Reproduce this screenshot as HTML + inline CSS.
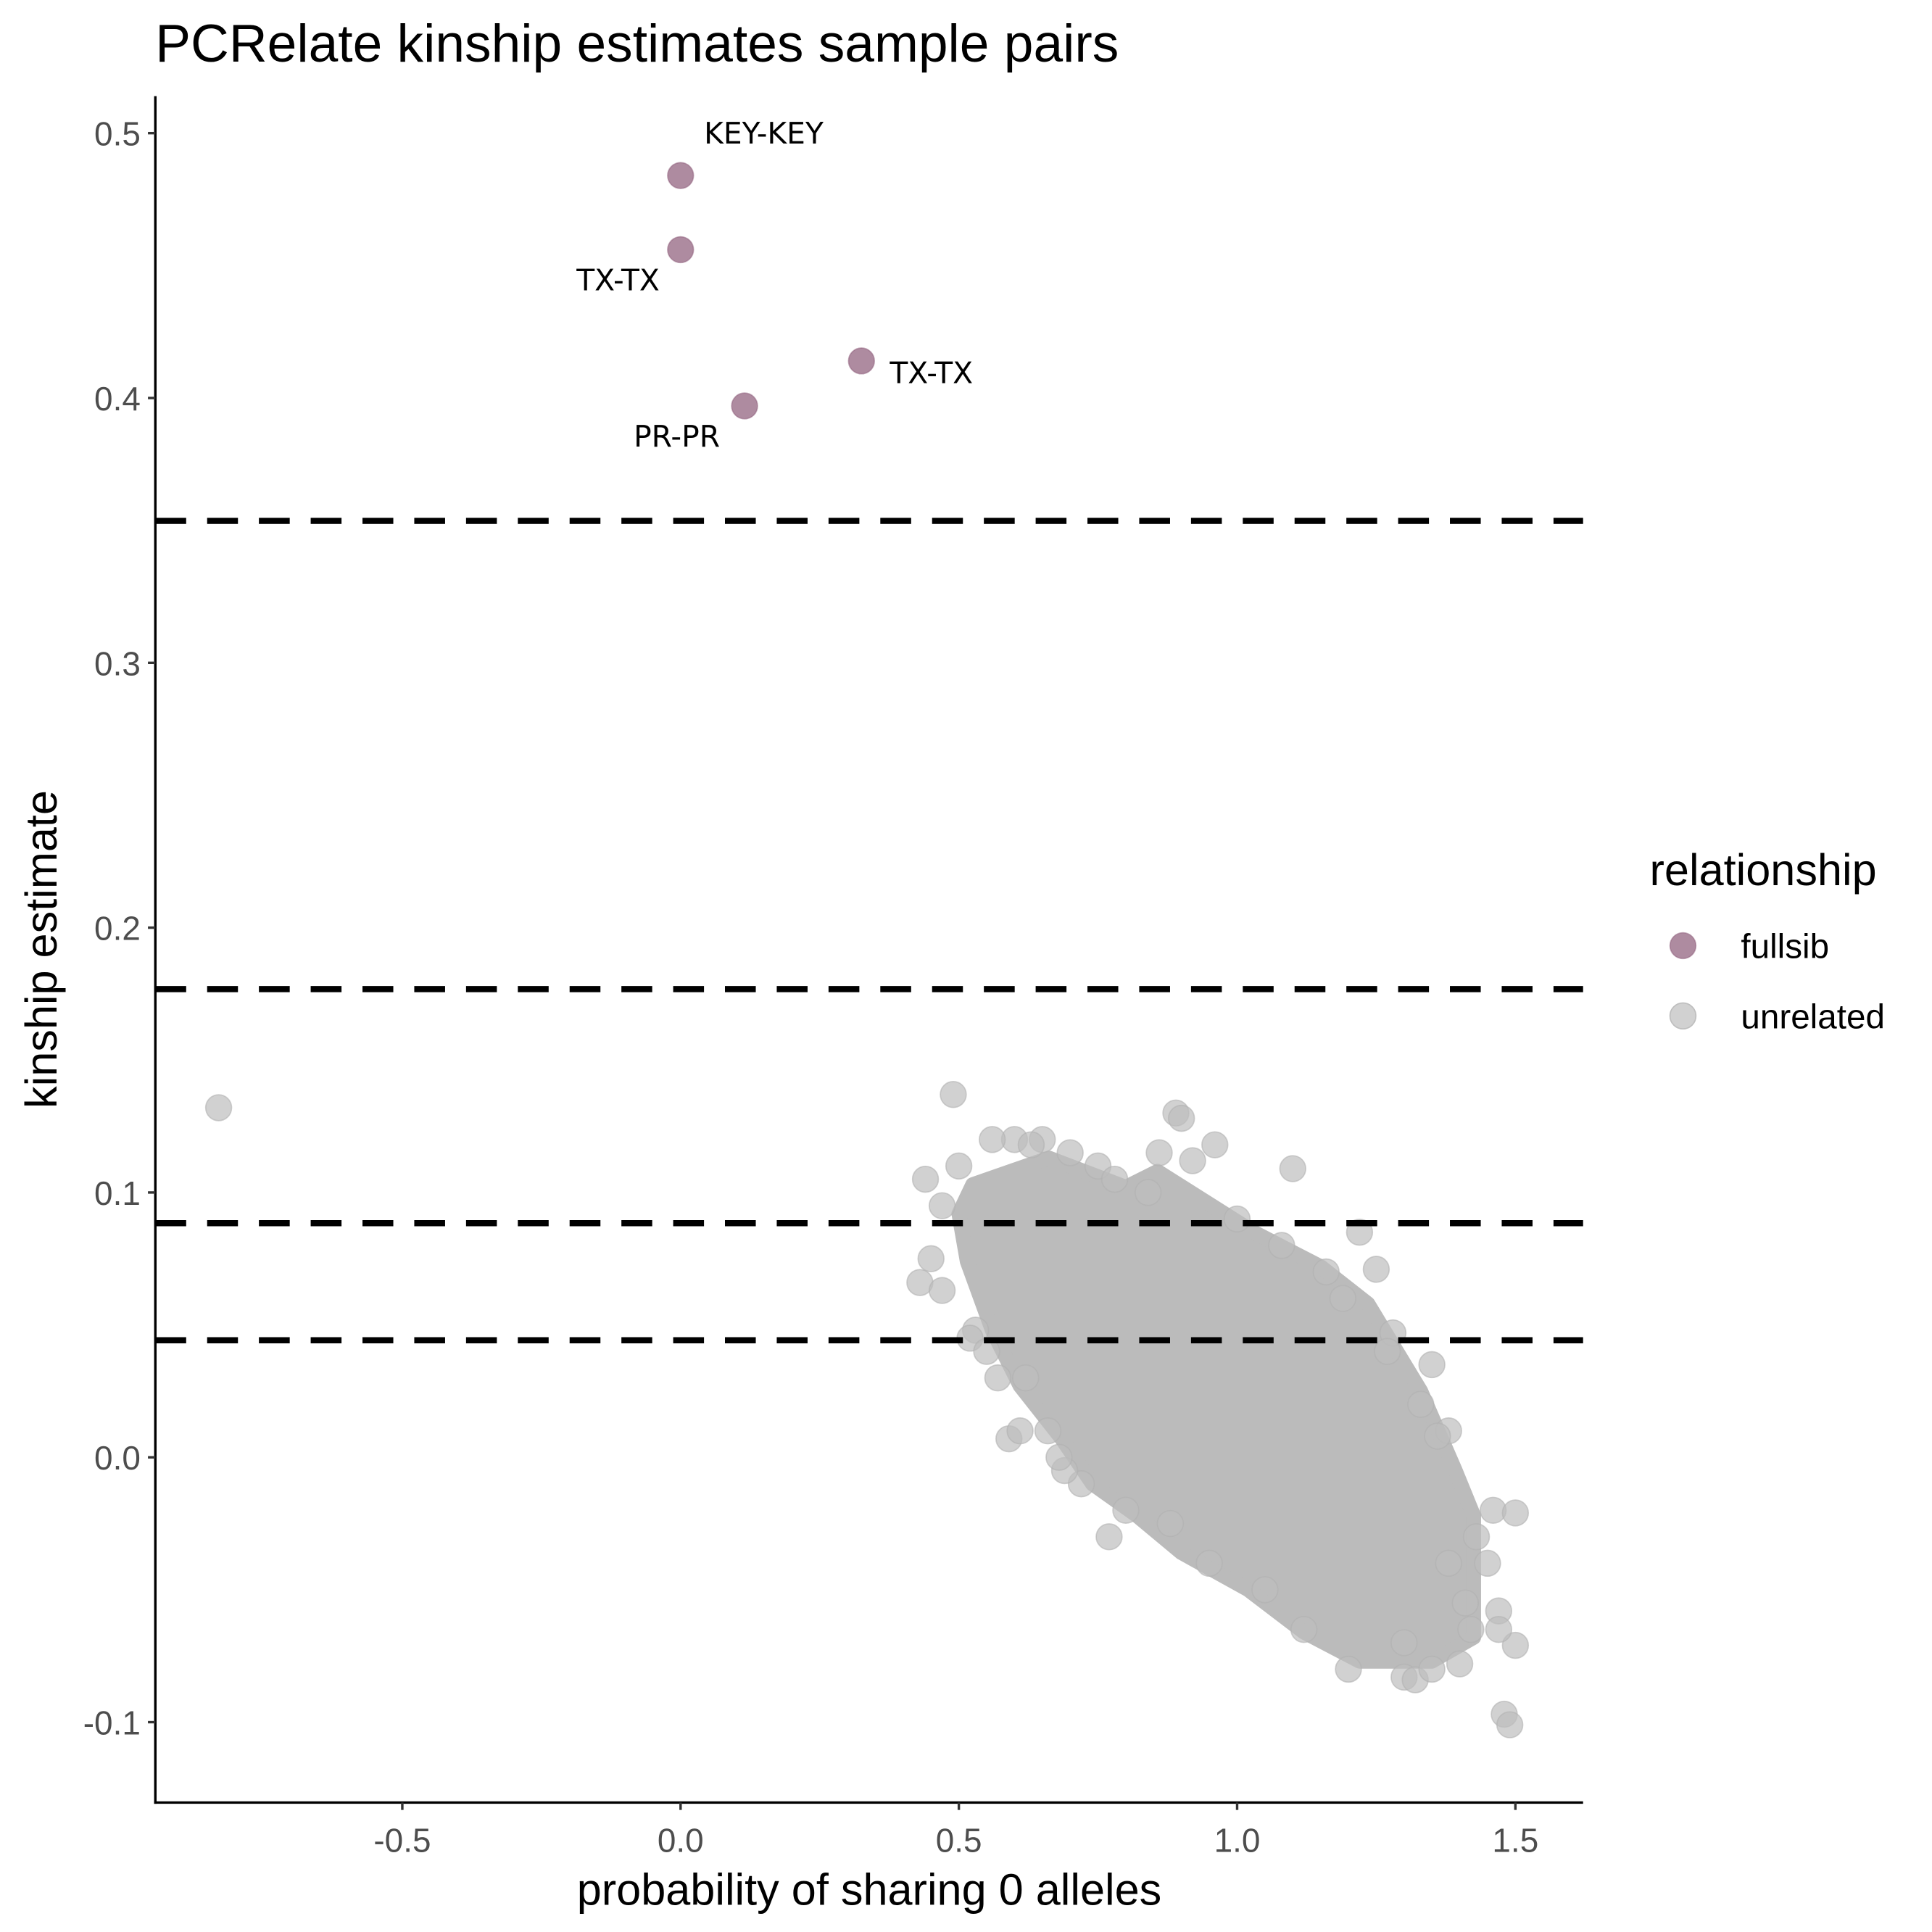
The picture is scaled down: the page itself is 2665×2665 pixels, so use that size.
<!DOCTYPE html>
<html><head><meta charset="utf-8"><style>
html,body{margin:0;padding:0;background:#fff;}
svg{display:block;font-family:"Liberation Sans",sans-serif;}
</style></head><body>
<svg id="chart" width="2665" height="2665" viewBox="0 0 1567 1567" xmlns="http://www.w3.org/2000/svg">
<text x="126" y="50" font-size="43" fill="#000">PCRelate kinship estimates sample pairs</text>
<g id="plot"></g>
<line x1="126" y1="78" x2="126" y2="1463" stroke="#000" stroke-width="2"/>
<line x1="125" y1="1462" x2="1284" y2="1462" stroke="#000" stroke-width="2"/>
<g id="yticks"></g>
<g id="xticks"></g>
<text x="705" y="1545" font-size="36" text-anchor="middle" fill="#000">probability of sharing 0 alleles</text>
<text transform="translate(46,770) rotate(-90)" font-size="36" text-anchor="middle" fill="#000">kinship estimate</text>
<g>
<text x="1338" y="718" font-size="36" fill="#000">relationship</text>
<circle cx="1365" cy="767" r="10.5" fill="#8b5a77" fill-opacity="0.7" stroke="#8b5a77" stroke-opacity="0.5"/>
<text x="1412" y="777" font-size="28" fill="#000">fullsib</text>
<circle cx="1365" cy="824" r="10.5" fill="#bebebe" fill-opacity="0.7" stroke="#bebebe"/>
<text x="1412" y="834" font-size="28" fill="#000">unrelated</text>
</g>
</svg>
<script>
const yTicks=[-0.1,0.0,0.1,0.2,0.3,0.4,0.5];
const yTickLabels=["-0.1","0.0","0.1","0.2","0.3","0.4","0.5"];
const xTicks=[-0.5,0.0,0.5,1.0,1.5];
const xTickLabels=["-0.5","0.0","0.5","1.0","1.5"];
const thresholds=[0.3536,0.1768,0.0884,0.0442];
const fullsibX=[0.0,0.0,0.325,0.115];
const fullsibY=[0.484,0.456,0.414,0.397];
const fullsibLabels=["KEY-KEY","TX-TX","TX-TX","PR-PR"];
const cloudX=[0.525,0.662,0.80,0.857,1.03,1.15,1.235,1.33,1.392,1.425,1.425,1.35,1.22,1.12,1.02,0.9,0.82,0.74,0.685,0.61,0.56,0.515,0.5];
const cloudY=[0.103,0.113,0.102,0.108,0.085,0.072,0.058,0.025,-0.005,-0.022,-0.068,-0.077,-0.077,-0.066,-0.05,-0.036,-0.022,-0.01,0.007,0.027,0.048,0.074,0.092];
const unrelX=[-0.83,0.49,0.44,0.43,0.45,0.47,0.59,0.61,0.77,0.89,0.9,0.96,1.1,1.22,1.25,1.28,1.35,1.38,1.36,1.46,1.5,1.45,1.47,1.5,1.47,1.48,1.49,1.3,1.32,1.4,0.65,0.6,0.7,0.75,0.5,0.47,0.53,0.52,0.57,0.72,0.8,1.42,0.56,0.63,0.86,0.92,1.16,1.19,1.27,1.33,1.41,1.43,0.55,0.66,0.69,1.05,1.2,1.35,0.78,0.84,1.0,1.08,0.95,1.3,1.38,0.62,0.68,0.88,1.12];
const unrelY=[0.132,0.137,0.105,0.066,0.075,0.063,0.007,0.01,-0.03,0.13,0.128,0.118,0.109,0.085,0.071,0.047,0.035,0.01,0.008,-0.02,-0.021,-0.04,-0.058,-0.071,-0.065,-0.097,-0.101,-0.083,-0.084,-0.078,0.12,0.12,0.115,0.11,0.11,0.095,0.048,0.045,0.03,-0.01,-0.02,-0.065,0.12,0.118,0.115,0.112,0.07,0.06,0.04,0.02,-0.055,-0.03,0.04,0.01,-0.005,-0.05,-0.08,-0.08,0.105,0.1,0.09,0.08,-0.04,-0.07,-0.04,0.03,0.0,-0.025,-0.065];

const NS="http://www.w3.org/2000/svg";
function sx(v){return 552+v*451.4;}
function sy(v){return 1182-v*2148;}
function mk(tag,attrs,parent){const e=document.createElementNS(NS,tag);for(const k in attrs)e.setAttribute(k,attrs[k]);parent.appendChild(e);return e;}
const plot=document.getElementById('plot');
const yt=document.getElementById('yticks');
const xt=document.getElementById('xticks');
yTicks.forEach((v,i)=>{
  const l=mk('line',{x1:120,x2:126,y1:sy(v),y2:sy(v),stroke:'#333','stroke-width':2},yt);
  
  
  const t=mk('text',{x:114,y:sy(v)+10,'font-size':27,'text-anchor':'end',fill:'#4d4d4d'},yt);
  t.textContent=yTickLabels[i];
  
  
});
xTicks.forEach((v,i)=>{
  const l=mk('line',{x1:sx(v),x2:sx(v),y1:1462,y2:1468,stroke:'#333','stroke-width':2},xt);
  
  
  const t=mk('text',{x:sx(v),y:1502,'font-size':27,'text-anchor':'middle',fill:'#4d4d4d'},xt);
  t.textContent=xTickLabels[i];
  
  
});
let pts=cloudX.map((x,i)=>sx(x)+','+sy(cloudY[i])).join(' ');
const poly=mk('polygon',{points:pts,fill:'#bbbbbb',stroke:'#bbbbbb','stroke-width':12,'stroke-linejoin':'round'},plot);


unrelX.forEach((x,i)=>{
  const c=mk('circle',{cx:sx(x),cy:sy(unrelY[i]),r:10.5,fill:'#bebebe','fill-opacity':0.7,stroke:'#b0b0b0','stroke-opacity':0.6},plot);
  
  
});
thresholds.forEach(v=>{
  const l=mk('line',{x1:126,x2:1284,y1:sy(v),y2:sy(v),stroke:'#000','stroke-width':5,'stroke-dasharray':'25 17'},plot);
  
  
});
const lblOff=[[19,-26,'start'],[-17,33,'end'],[23,18,'start'],[-20,33,'end']];
fullsibX.forEach((x,i)=>{
  const c=mk('circle',{cx:sx(x),cy:sy(fullsibY[i]),r:10.5,fill:'#8b5a77','fill-opacity':0.7,stroke:'#8b5a77','stroke-opacity':0.5},plot);
  
  
  const o=lblOff[i];
  const t=mk('text',{x:sx(x)+o[0],y:sy(fullsibY[i])+o[1],'font-size':24,'text-anchor':o[2],fill:'#000','font-family':'DejaVu Sans, sans-serif'},plot);
  t.textContent=fullsibLabels[i];
  
  
});
</script>
</body></html>
